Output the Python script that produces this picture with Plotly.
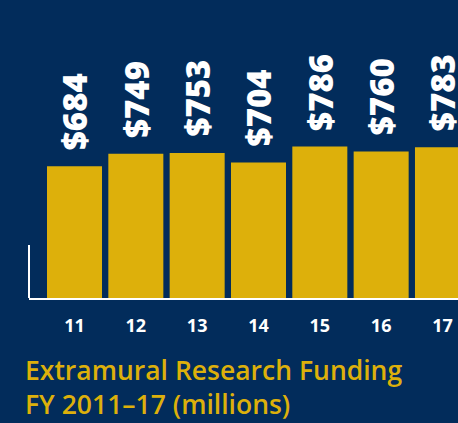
import plotly.graph_objects as go

years = ["11", "12", "13", "14", "15", "16", "17"]
funding = [684, 749, 753, 704, 786, 760, 783]
labels = ["$684", "$749", "$753", "$704", "$786", "$760", "$783"]

NAVY = "#022c5b"
GOLD = "#ddb00b"

fig = go.Figure()
fig.add_trace(go.Bar(x=years, y=funding, marker=dict(color=GOLD, line=dict(width=0)),
                     hoverinfo="skip"))

for i, (v, t) in enumerate(zip(funding, labels)):
    fig.add_annotation(x=i, y=v, xref="x", yref="y", text=t, textangle=-90,
                       showarrow=False, yanchor="bottom", xanchor="center", yshift=14,
                       font=dict(family="Open Sans", size=33, color="white", weight=800))

fig.add_shape(type="line", xref="paper", yref="y", x0=0, x1=0, y0=0, y1=275,
              line=dict(color="white", width=2))

fig.update_layout(
    width=458, height=423,
    paper_bgcolor=NAVY, plot_bgcolor=NAVY,
    margin=dict(l=29, r=0, t=0, b=125),
    bargap=0.103,
    showlegend=False,
    xaxis=dict(type="category", range=[-0.742, 6.253], showgrid=False, zeroline=False,
               showline=True, linecolor="white", linewidth=2, ticks="",
               tickfont=dict(family="Open Sans", size=18, color="white", weight="bold"),
               ticklabelstandoff=10),
    yaxis=dict(range=[0, 1547], visible=False, showgrid=False, zeroline=False),
    title=dict(text="Extramural Research Funding<br>FY 2011–17 (millions)",
               xref="container", yref="container", x=25/458, xanchor="left",
               y=1 - 380/423, yanchor="top",
               font=dict(family="Open Sans", size=26.5, color=GOLD, weight=600)),
)

fig.write_html("out.html", config={"displayModeBar": False},
               post_script="document.body.style.margin='0';")
